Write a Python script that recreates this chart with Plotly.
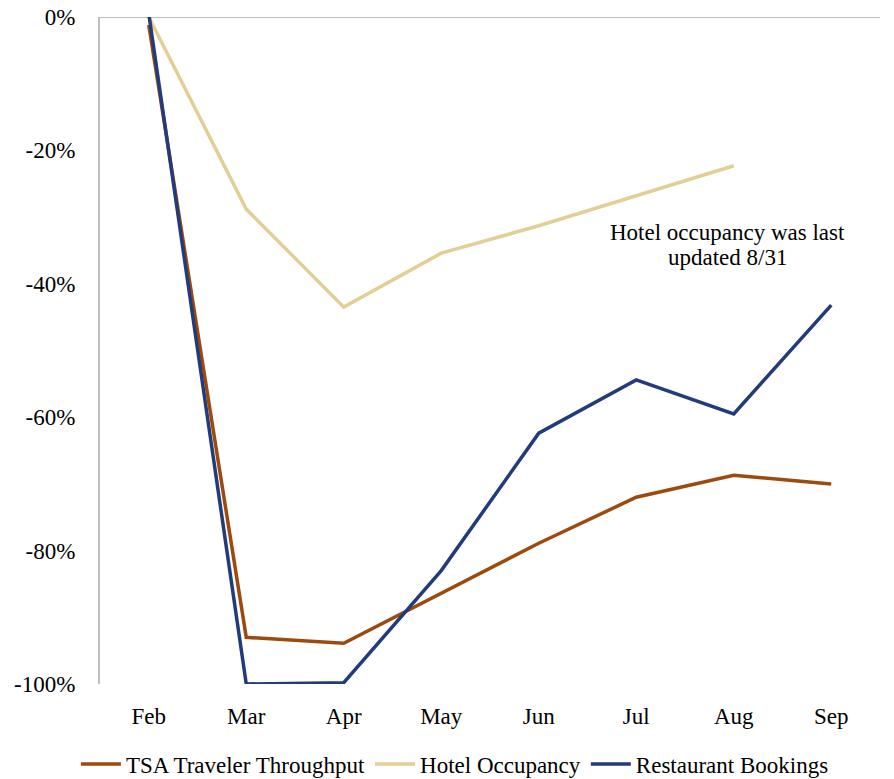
import plotly.graph_objects as go

months = ["Feb", "Mar", "Apr", "May", "Jun", "Jul", "Aug", "Sep"]
tsa = [-1.2, -93.0, -93.9, -86.4, -78.9, -72.0, -68.7, -70.0]
hotel = [0.0, -28.8, -43.5, -35.4, -31.3, -26.8, -22.3]
restaurant = [0.5, -100.0, -99.8, -83.0, -62.4, -54.4, -59.5, -43.2]

y_ticks = [0, -20, -40, -60, -80, -100]
y_tick_text = ["0%", "-20%", "-40%", "-60%", "-80%", "-100%"]

note_lines = ["Hotel occupancy was last", "updated 8/31"]

FONT = "Times New Roman, Liberation Serif, serif"
SIZE = 23
LW = 3.5

fig = go.Figure()
fig.add_trace(go.Scatter(x=months, y=tsa, mode="lines", name="TSA Traveler Throughput",
                         line=dict(color="#9C4A0E", width=LW), cliponaxis=False))
fig.add_trace(go.Scatter(x=months[:len(hotel)], y=hotel, mode="lines", name="Hotel Occupancy",
                         line=dict(color="#E3CE96", width=LW), cliponaxis=False))
fig.add_trace(go.Scatter(x=months, y=restaurant, mode="lines", name="Restaurant Bookings",
                         line=dict(color="#213B7B", width=LW), cliponaxis=False))

# axis line at 0%
fig.add_shape(type="line", xref="paper", yref="y", x0=0, x1=1, y0=0, y1=0,
              line=dict(color="#BFBFBF", width=2), layer="below")

# note, one annotation per line for tight line spacing
for text, yv in zip(note_lines, [-32.3, -36.0]):
    fig.add_annotation(text=text, xref="paper", yref="y",
                       x=0.805, y=yv, xanchor="center", yanchor="middle",
                       showarrow=False, align="center",
                       font=dict(family=FONT, size=SIZE, color="#000000"))

fig.update_layout(
    width=894, height=779,
    margin=dict(l=100, r=14, t=17, b=95, autoexpand=False),
    paper_bgcolor="white", plot_bgcolor="white",
    font=dict(family=FONT, size=SIZE, color="#000000"),
    showlegend=True,
    legend=dict(orientation="h", x=0.455, xanchor="center", y=-0.12, yanchor="middle",
                font=dict(family=FONT, size=SIZE), itemwidth=40, tracegroupgap=0),
    xaxis=dict(showline=False, showgrid=False, zeroline=False, ticks="",
               ticklabelstandoff=16, range=[-0.5, 7.5], tickfont=dict(family=FONT, size=SIZE)),
    yaxis=dict(range=[-100, 0], tickvals=y_ticks, ticktext=y_tick_text,
               showgrid=False, zeroline=False, showline=True, linecolor="#BFBFBF",
               linewidth=2, ticks="", ticklabelstandoff=18, tickfont=dict(family=FONT, size=SIZE)),
)

fig.write_html("out.html")
